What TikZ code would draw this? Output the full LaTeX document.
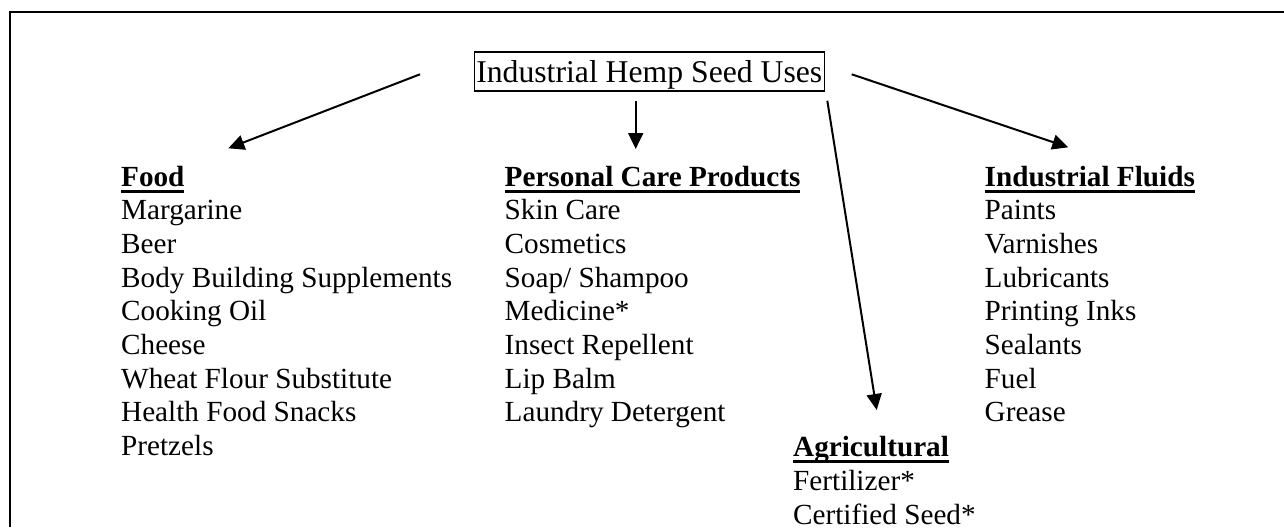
\documentclass[tikz,border=0pt]{standalone}
\usepackage{fontspec}
\setmainfont{Liberation Serif}
\usetikzlibrary{arrows.meta}
\newcommand\hdul[1]{\setbox0=\hbox{\bfseries #1}\rlap{\rule[-6.5pt]{\wd0}{3pt}}\box0}
\begin{document}
\begin{tikzpicture}[x=1pt,y=-1pt,
  item/.style={anchor=base west,inner sep=0pt,font=\fontsize{29.2}{33.7}\selectfont},
  conn/.style={line width=2pt,-{Triangle[length=16pt,width=15pt]}}]
\useasboundingbox (0,0) rectangle (1284,527);
\draw[line width=2.4pt] (10,527) -- (10,12) -- (1284,12);
\node[draw,line width=1.6pt,inner xsep=2pt,inner ysep=0pt,text height=30.7pt,text depth=8.3pt,
  anchor=base west,font=\fontsize{31.7}{36}\selectfont] (title) at (473.5,82.7) {Industrial Hemp Seed Uses};
% Food
\node[item] (food) at (121,186) {\hdul{Food}};
\foreach \t [count=\i] in {Margarine,Beer,Body Building Supplements,Cooking Oil,Cheese,Wheat Flour Substitute,Health Food Snacks,Pretzels}
  \node[item] (food\i) at (121,{186+33.7*\i}) {\t};
% Personal care
\node[item] (care) at (504.5,186) {\hdul{Personal Care Products}};
\foreach \t [count=\i] in {Skin Care,Cosmetics,Soap/ Shampoo,Medicine*,Insect Repellent,Lip Balm,Laundry Detergent}
  \node[item] (care\i) at (504.5,{186+33.7*\i}) {\t};
% Industrial fluids
\node[item] (fluid) at (984.5,186) {\hdul{Industrial Fluids}};
\foreach \t [count=\i] in {Paints,Varnishes,Lubricants,Printing Inks,Sealants,Fuel,Grease}
  \node[item] (fluid\i) at (984.5,{186+33.7*\i}) {\t};
% Agricultural
\node[item] (agri) at (793,456.7) {\hdul{Agricultural}};
\foreach \t [count=\i] in {Fertilizer*,Certified Seed*}
  \node[item] (agri\i) at (793,{456.7+33.7*\i}) {\t};
% connectors
\coordinate (s1) at (420,74.3);   \coordinate (e1) at (228.3,148.3);
\coordinate (s2) at (635.7,100.7); \coordinate (e2) at (635.7,149);
\coordinate (s3) at (827.3,100.7); \coordinate (e3) at (876.7,410);
\coordinate (s4) at (851.7,74.3);  \coordinate (e4) at (1068.3,147.3);
\draw[conn] (s1) -- (e1);
\draw[conn] (s2) -- (e2);
\draw[conn] (s3) -- (e3);
\draw[conn] (s4) -- (e4);
\end{tikzpicture}
\end{document}
